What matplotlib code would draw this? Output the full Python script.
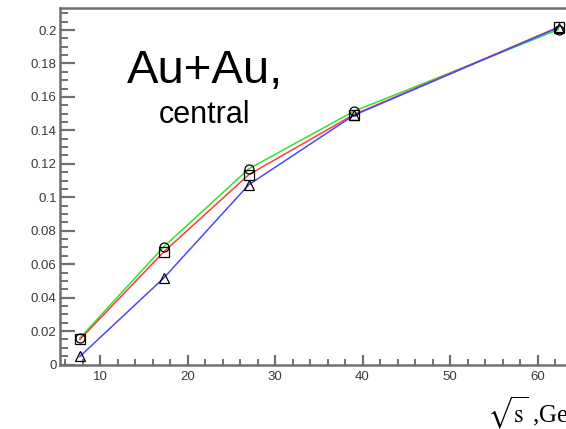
import matplotlib
matplotlib.use("Agg")
import matplotlib.pyplot as plt
from matplotlib.ticker import MultipleLocator, FuncFormatter

# Collision energies (GeV)
energies = [7.7, 17.3, 27.0, 39.0, 62.4]

# Three model curves
series_triangle = [0.0048, 0.0518, 0.1075, 0.1490, 0.2015]
series_square = [0.0150, 0.0674, 0.1135, 0.1494, 0.2018]
series_circle = [0.0158, 0.0705, 0.1170, 0.1514, 0.2003]

plt.rcParams['font.family'] = ['Liberation Sans', 'DejaVu Sans']
plt.rcParams['mathtext.fontset'] = 'stix'

fig = plt.figure(figsize=(5.66, 4.29), dpi=100)
fig.patch.set_facecolor('white')

x0, x1 = 5.37, 66.0
y0, y1 = 0.0, 0.213
ax = fig.add_axes([59.5 / 566, (429 - 364.5) / 429, (x1 - x0) * 8.75 / 566, (364.5 - 8.3) / 429])
ax.set_xlim(x0, x1)
ax.set_ylim(y0, y1)

# Lines first, in stacking order green, red, blue
ax.plot(energies, series_circle, color='#33e033', lw=1.1, zorder=2)
ax.plot(energies, series_square, color='#ff3b3b', lw=1.1, zorder=3)
ax.plot(energies, series_triangle, color='#4848ff', lw=1.1, zorder=4)

# Open black markers
mk = dict(ls='none', mfc='none', mec='black', mew=0.9, ms=6.5, zorder=5)
ax.plot(energies, series_circle, marker='o', **mk)
ax.plot(energies, series_square, marker='s', **mk)
ax.plot(energies, series_triangle, marker='^', **mk)

frame_col = '#707070'
for s in ax.spines.values():
    s.set_color(frame_col)
    s.set_linewidth(1.8)

ax.xaxis.set_major_locator(MultipleLocator(10))
ax.xaxis.set_minor_locator(MultipleLocator(2))
ax.yaxis.set_major_locator(MultipleLocator(0.02))
ax.yaxis.set_minor_locator(MultipleLocator(0.005))

def yfmt(v, pos):
    if abs(v) < 1e-9:
        return '0'
    return ('%.3f' % v).rstrip('0').rstrip('.')

ax.yaxis.set_major_formatter(FuncFormatter(yfmt))

ax.tick_params(axis='both', which='both', direction='in', color=frame_col,
               labelcolor='#3a3a3a', labelsize=9.5, top=False, right=False)
ax.tick_params(axis='y', which='major', length=11, width=1.6, pad=2)
ax.tick_params(axis='y', which='minor', length=5.5, width=1.4)
ax.tick_params(axis='x', which='major', length=7, width=1.6, pad=5)
ax.tick_params(axis='x', which='minor', length=4, width=1.4)

fig.text(205 / 566, (429 - 83) / 429, 'Au+Au,', fontsize=34, ha='center',
         va='baseline', color='black')
fig.text(205 / 566, (429 - 123) / 429, 'central', fontsize=22, ha='center',
         va='baseline', color='black')

fig.text(487 / 566, (429 - 423) / 429, r'$\sqrt{\mathrm{s}}$ ,GeV',
         fontsize=18, ha='left', va='baseline', family='Liberation Serif',
         color='black')

fig.savefig('out.png', dpi=100, facecolor='white')
